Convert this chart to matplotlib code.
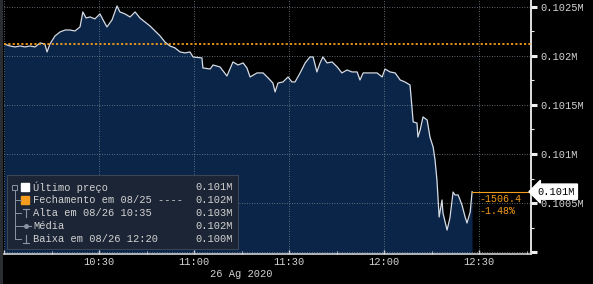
import matplotlib.pyplot as plt
import matplotlib.transforms as mtransforms
from matplotlib.patches import Rectangle

plt.rcParams['font.family'] = ['Liberation Mono', 'DejaVu Sans Mono']

# minutes after 10:00 on 26 Aug 2020, price
minutes = [0.0, 1.9, 3.5, 5.1, 6.6, 8.2, 9.8, 11.4, 12.9, 13.6, 14.5, 16.1, 17.7, 19.3,
           20.8, 22.4, 24.0, 24.9, 25.9, 27.2, 28.7, 30.3, 31.3, 32.5, 34.1, 35.7, 36.6,
           38.2, 39.8, 41.4, 42.9, 44.5, 46.1, 47.7, 49.3, 50.8, 52.4, 54.0, 55.6, 57.2,
           58.7, 59.7, 62.5, 62.8, 65.1, 66.0, 68.2, 70.4, 72.3, 73.9, 75.5, 76.7, 77.7,
           79.9, 81.8, 83.4, 84.9, 85.6, 86.5, 88.1, 89.7, 90.9, 91.9, 93.5, 95.1, 96.6,
           97.6, 98.8, 99.8, 100.7, 102.0, 103.6, 105.2, 106.7, 108.3, 109.9, 111.5,
           112.4, 113.4, 115.6, 117.8, 119.4, 120.3, 121.9, 123.5, 125.1, 126.6, 128.2,
           128.8, 129.2, 130.4, 130.7, 131.4, 132.3, 133.6, 134.5, 135.5, 136.1, 136.7,
           137.4, 138.3, 138.6, 139.9, 140.8, 141.8, 142.4, 143.4, 144.6, 145.6, 146.2,
           147.2, 147.8]
prices = [102122, 102102, 102092, 102102, 102092, 102102, 102092, 102133, 102122, 102041,
          102122, 102204, 102245, 102265, 102265, 102255, 102296, 102449, 102388, 102398,
          102378, 102429, 102367, 102296, 102367, 102510, 102449, 102429, 102398, 102449,
          102388, 102347, 102306, 102255, 102204, 102143, 102102, 102082, 102041, 102031,
          102041, 101990, 101980, 101878, 101867, 101908, 101888, 101796, 101939, 101908,
          101929, 101878, 101786, 101827, 101827, 101776, 101724, 101633, 101724, 101735,
          101786, 101735, 101735, 101827, 101929, 101990, 101990, 101837, 101929, 101990,
          101929, 101939, 101888, 101827, 101857, 101837, 101837, 101755, 101827, 101827,
          101827, 101786, 101867, 101837, 101827, 101755, 101735, 101704, 101480, 101327,
          101316, 101173, 101245, 101378, 101347, 101173, 101071, 100939, 100735, 100357,
          100531, 100398, 100224, 100347, 100612, 100582, 100582, 100480, 100357, 100296,
          100408, 100616]

close_prev = 102122
last_price = 100616
last_label = "0.101M"
change_abs = "-1506.4"
change_pct = "-1.48%"

x_ticks = [0, 30, 60, 90, 120, 150]
x_labels = ["", "10:30", "11:00", "11:30", "12:00", "12:30"]
x_minor = [15, 45, 75, 105, 135, 165]
y_ticks = [100000, 100500, 101000, 101500, 102000, 102500]
y_labels = ["", "0.1005M", "0.101M", "0.1015M", "0.102M", "0.1025M"]
y_minor = [100250, 100750, 101250, 101750, 102250]
date_label = "26 Ag 2020"

legend_rows = ["Último preço", "Fechamento em 08/25 ----", "Alta em 08/26 10:35",
               "Média", "Baixa em 08/26 12:20"]
legend_vals = ["0.101M", "0.102M", "0.103M", "0.102M", "0.100M"]

W, H = 593, 284
fig = plt.figure(figsize=(W / 100, H / 100), dpi=100, facecolor='black')
ax = fig.add_axes([4 / W, (H - 254) / H, 527 / W, 254 / H], facecolor='black')

txt = '#d2d2d2'
orange = '#f39c1e'

ax.fill_between(minutes, prices, 99980, color='#0b2548', lw=0, zorder=1)
ax.plot(minutes, prices, color='#d5dce6', lw=0.9, zorder=3)
ax.axhline(close_prev, color=orange, lw=1.3, ls=(0, (1.2, 1.2)), zorder=4)
ax.plot([minutes[-1], 166.4], [last_price, last_price], color=orange, lw=0.8, zorder=4)

ax.set_xlim(0, 166.4)
ax.set_ylim(99980, 102571)

ax.set_xticks(x_ticks)
ax.set_xticklabels(x_labels)
ax.set_xticks(x_minor, minor=True)
ax.set_yticks(y_ticks)
ax.set_yticklabels(y_labels)
ax.set_yticks(y_minor, minor=True)

ax.yaxis.tick_right()
ax.grid(True, which='major', color='#7a8594', lw=0.6, ls=(0, (1, 2)), zorder=2)
ax.set_axisbelow(False)

for s in ['top', 'left']:
    ax.spines[s].set_visible(False)
ax.spines['right'].set_color('#e0e0e0')
ax.spines['right'].set_linewidth(1.4)
ax.spines['bottom'].set_color('#cfcfcf')
ax.spines['bottom'].set_linewidth(1.2)

ax.tick_params(axis='y', which='major', colors='#eeeeee', length=4, width=2.2,
               labelsize=7.5, labelcolor=txt, pad=3)
ax.tick_params(axis='y', which='minor', colors='#eeeeee', length=2.5, width=0.8)
ax.tick_params(axis='x', which='major', colors='#dddddd', length=3, width=1,
               direction='in', labelsize=7.5, labelcolor=txt, pad=2)
ax.tick_params(axis='x', which='minor', colors='#dddddd', length=2, width=0.8,
               direction='in')

# change labels near the last price
ax.text(150.0, 100540, change_abs, color=orange, fontsize=7.2, ha='left', va='center', zorder=5)
ax.text(150.0, 100415, change_pct, color=orange, fontsize=7.2, ha='left', va='center', zorder=5)

# last price box on the right axis
trans = mtransforms.blended_transform_factory(ax.transAxes, ax.transData)
ax.text(1.012, last_price, last_label, transform=trans, color='black', fontsize=7.5,
        ha='left', va='center', clip_on=False, zorder=10,
        bbox=dict(boxstyle='larrow,pad=0.25', fc='white', ec='white'))

fig.text(241 / W, 1 - 274 / H, date_label, color=txt, fontsize=7.5, ha='center', va='center')

# thin frame on the left edge
fig.add_artist(Rectangle((0, 0), 3 / W, 1, transform=fig.transFigure, color='#2a2e33', lw=0))

# legend panel
lg = fig.add_axes([7 / W, (H - 249) / H, 231 / W, 74 / H], facecolor='#1b2535')
lg.set_xlim(0, 231)
lg.set_ylim(74, 0)
lg.set_xticks([])
lg.set_yticks([])
for s in lg.spines.values():
    s.set_color('#3a4656')
    s.set_linewidth(0.8)

rows_y = [12, 25, 38, 51, 64]
grey = '#8a95a3'
lg.add_patch(Rectangle((5, rows_y[0] - 2.5), 5, 5, fill=False, ec=grey, lw=0.7))
lg.plot([7.5, 7.5], [rows_y[0] + 2.5, rows_y[4]], color=grey, lw=0.7)
for yy in rows_y[1:]:
    lg.plot([7.5, 14], [yy, yy], color=grey, lw=0.7)
lg.add_patch(Rectangle((14, rows_y[0] - 4), 8, 8, color='white'))
lg.add_patch(Rectangle((14, rows_y[1] - 4), 8, 8, color=orange))
lg.plot([16, 22], [rows_y[2] - 4, rows_y[2] - 4], color=grey, lw=0.8)
lg.plot([19, 19], [rows_y[2] - 4, rows_y[2] + 4], color=grey, lw=0.8)
lg.plot([14, 24], [rows_y[3], rows_y[3]], color=grey, lw=0.8)
lg.plot([19], [rows_y[3]], marker='o', ms=2.5, color=grey)
lg.plot([16, 22], [rows_y[4] + 4, rows_y[4] + 4], color=grey, lw=0.8)
lg.plot([19, 19], [rows_y[4] - 4, rows_y[4] + 4], color=grey, lw=0.8)

for yy, label, val in zip(rows_y, legend_rows, legend_vals):
    lg.text(26, yy, label, color=txt, fontsize=7.5, ha='left', va='center')
    lg.text(226, yy, val, color=txt, fontsize=7.5, ha='right', va='center')

fig.savefig('out.png', dpi=100, facecolor='black')
